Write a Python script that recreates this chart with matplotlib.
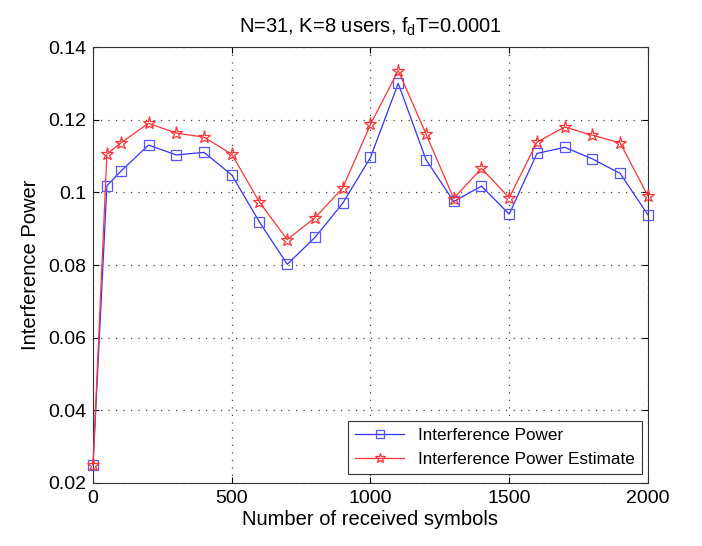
import matplotlib
matplotlib.use('Agg')
import matplotlib.pyplot as plt

plt.rcParams['font.family'] = ['Liberation Sans', 'DejaVu Sans']

symbols = [0, 50, 100, 200, 300, 400, 500, 600, 700, 800, 900, 1000,
           1100, 1200, 1300, 1400, 1500, 1600, 1700, 1800, 1900, 2000]
power = [0.025, 0.1018, 0.1058, 0.1130, 0.1103, 0.1110, 0.1048, 0.0918,
         0.0802, 0.0876, 0.0970, 0.1096, 0.1300, 0.1090, 0.0975, 0.1017,
         0.0940, 0.1107, 0.1124, 0.1092, 0.1052, 0.0938]
estimate = [0.025, 0.1105, 0.1136, 0.1190, 0.1163, 0.1152, 0.1105, 0.0973,
            0.0870, 0.0930, 0.1012, 0.1187, 0.1335, 0.1161, 0.0983, 0.1066,
            0.0985, 0.1138, 0.1180, 0.1157, 0.1136, 0.0990]

fig = plt.figure(figsize=(7.02, 5.46), dpi=100)
ax = fig.add_axes([0.1325, 0.1154, 0.7905, 0.7985])

ax.plot(symbols, power, color='#3333ff', lw=0.9, marker='s', ms=7,
        mfc='none', mec='#5555ff', mew=0.9, label='Interference Power',
        clip_on=False, zorder=3)
ax.plot(symbols, estimate, color='#ff3333', lw=0.9, marker='*', ms=9.5,
        mfc='none', mec='#ff3333', mew=0.9, label='Interference Power Estimate',
        clip_on=False, zorder=3)

ax.set_xlim(0, 2000)
ax.set_ylim(0.02, 0.14)
ax.set_xticks([0, 500, 1000, 1500, 2000])
ax.set_yticks([0.02, 0.04, 0.06, 0.08, 0.1, 0.12, 0.14])
ax.set_yticklabels(['0.02', '0.04', '0.06', '0.08', '0.1', '0.12', '0.14'])
ax.tick_params(direction='in', labelsize=14, top=True, right=True, length=4, pad=5)
ax.grid(True, linestyle=(0, (1, 5)), color='#444444', lw=0.9)
for s in ax.spines.values():
    s.set_color('#333333')
    s.set_linewidth(0.8)

ax.set_xlabel('Number of received symbols', fontsize=14.5, labelpad=2)
ax.set_ylabel('Interference Power', fontsize=14.5, labelpad=6)
ax.set_title(r'N=31, K=8 users, f$_\mathregular{d}$T=0.0001', fontsize=14.5, pad=10)

leg = ax.legend(loc='lower right', fontsize=12.3, fancybox=False,
                edgecolor='#333333', framealpha=1, handlelength=2.9,
                borderaxespad=0.3, markerscale=0.8,
                bbox_to_anchor=(0.998, 0.01))
leg.get_frame().set_linewidth(0.8)

fig.savefig('out.png', dpi=100)
